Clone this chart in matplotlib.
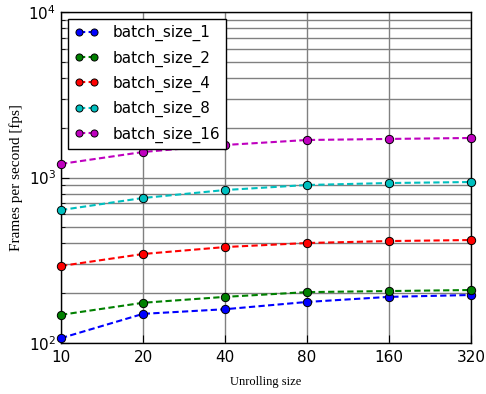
import matplotlib
matplotlib.use("Agg")
import matplotlib.pyplot as plt
import numpy as np

unroll = ["10", "20", "40", "80", "160", "320"]
bs_1 = [107, 150, 160, 177, 190, 195]
bs_2 = [148, 175, 190, 203, 206, 209]
bs_4 = [292, 345, 380, 402, 413, 419]
bs_8 = [636, 752, 840, 901, 926, 939]
bs_16 = [1208, 1426, 1572, 1685, 1710, 1733]

series = [("batch_size_1", bs_1, "b"), ("batch_size_2", bs_2, "g"),
          ("batch_size_4", bs_4, "r"), ("batch_size_8", bs_8, "c"),
          ("batch_size_16", bs_16, "m")]

fig = plt.figure(figsize=(4.86, 3.94), dpi=100)
ax = fig.add_axes([61 / 486, 51 / 394, 410 / 486, 331 / 394])

xs = np.arange(len(unroll))
for name, vals, col in series:
    ax.plot(xs, vals, marker="o", linestyle=(0, (3, 1.6)), color=col, label=name,
            markersize=6, markeredgecolor="black", markeredgewidth=0.7, lw=1.5,
            clip_on=False, zorder=3)

ax.set_yscale("log")
ax.set_ylim(100, 10000)
ax.set_xlim(0, len(unroll) - 1)
ax.set_xticks(xs)
ax.set_xticklabels(unroll)
ax.grid(True, which="both", color="grey", linestyle="-", lw=1)
ax.tick_params(which="both", direction="in", labelsize=11)
ax.tick_params(axis="x", pad=5)
ax.tick_params(which="major", length=6)
ax.tick_params(which="minor", length=3)
for s in ax.spines.values():
    s.set_linewidth(1)

ax.set_xlabel("Unrolling size", family="Liberation Serif", fontsize=9, labelpad=8)
ax.set_ylabel("Frames per second [fps]", family="Liberation Serif", fontsize=11)

leg = ax.legend(loc="upper left", fontsize=11, fancybox=False, framealpha=1,
                edgecolor="black", numpoints=2, markerscale=0.85, handlelength=1.6,
                borderaxespad=0.45, labelspacing=0.6, handletextpad=0.9,
                borderpad=0.4)
leg.get_frame().set_linewidth(1)
leg.set_zorder(5)

fig.savefig("out.png", dpi=100)
